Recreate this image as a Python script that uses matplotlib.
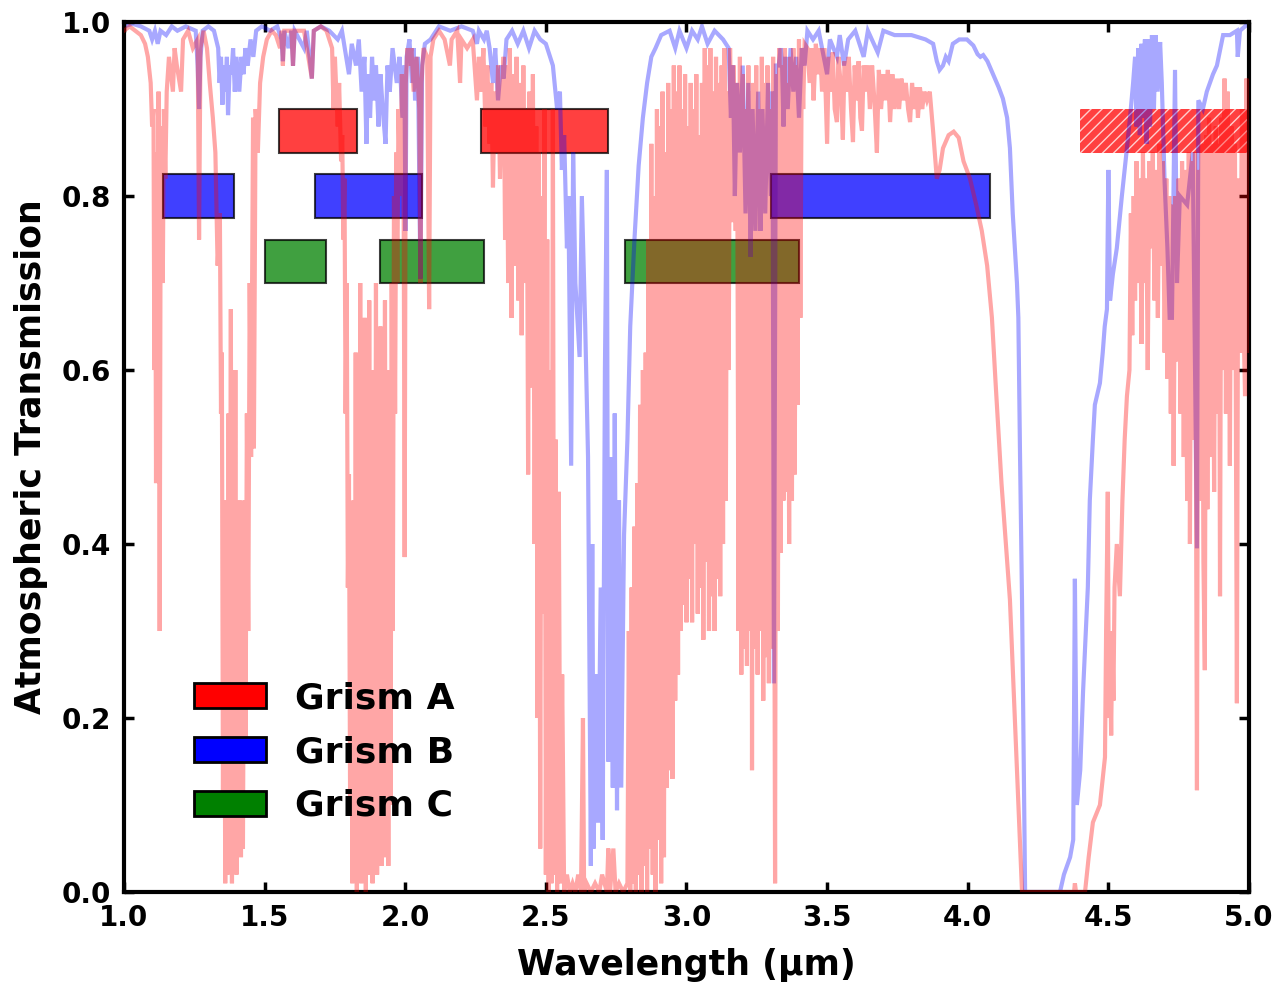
import matplotlib
matplotlib.use("Agg")
import matplotlib.pyplot as plt
from matplotlib.patches import Patch

# ---------------- data ----------------
# Site 1 (red, lower / wetter site) transmission
red_wl = [1.000, 1.020, 1.040, 1.060, 1.075, 1.085, 1.095, 1.100, 1.105, 1.108, 1.111, 1.114, 1.117, 1.120,
          1.123, 1.127, 1.130, 1.134, 1.138, 1.142, 1.147, 1.152, 1.160, 1.174, 1.180, 1.188, 1.203, 1.210,
          1.228, 1.245, 1.262, 1.267, 1.272, 1.283, 1.295, 1.305, 1.316, 1.325, 1.333, 1.341, 1.345, 1.348,
          1.352, 1.356, 1.360, 1.364, 1.368, 1.372, 1.376, 1.380, 1.384, 1.388, 1.392, 1.396, 1.400, 1.404,
          1.408, 1.412, 1.416, 1.420, 1.423, 1.428, 1.432, 1.437, 1.442, 1.447, 1.452, 1.459, 1.462, 1.468,
          1.476, 1.484, 1.495, 1.508, 1.525, 1.540, 1.555, 1.561, 1.565, 1.570, 1.595, 1.601, 1.607, 1.640,
          1.668, 1.675, 1.700, 1.720, 1.740, 1.745, 1.750, 1.760, 1.765, 1.772, 1.776, 1.780, 1.784, 1.788,
          1.792, 1.796, 1.800, 1.804, 1.808, 1.812, 1.816, 1.820, 1.824, 1.828, 1.832, 1.836, 1.840, 1.844,
          1.848, 1.852, 1.856, 1.860, 1.864, 1.868, 1.872, 1.876, 1.880, 1.884, 1.888, 1.892, 1.896, 1.900,
          1.904, 1.908, 1.912, 1.916, 1.920, 1.924, 1.928, 1.932, 1.936, 1.940, 1.944, 1.948, 1.952, 1.956,
          1.960, 1.964, 1.968, 1.972, 1.976, 1.982, 1.988, 1.994, 1.998, 2.002, 2.008, 2.015, 2.022, 2.030,
          2.040, 2.050, 2.054, 2.058, 2.065, 2.078, 2.085, 2.090, 2.100, 2.120, 2.140, 2.159, 2.165, 2.185,
          2.195, 2.200, 2.220, 2.240, 2.255, 2.262, 2.270, 2.278, 2.285, 2.292, 2.300, 2.306, 2.312, 2.318,
          2.324, 2.330, 2.337, 2.343, 2.350, 2.355, 2.360, 2.366, 2.372, 2.378, 2.384, 2.390, 2.396, 2.402,
          2.408, 2.414, 2.420, 2.426, 2.432, 2.437, 2.442, 2.448, 2.454, 2.460, 2.466, 2.470, 2.475, 2.480,
          2.485, 2.490, 2.495, 2.500, 2.505, 2.510, 2.515, 2.520, 2.525, 2.530, 2.535, 2.540, 2.546, 2.552,
          2.558, 2.565, 2.575, 2.585, 2.595, 2.605, 2.615, 2.625, 2.632, 2.636, 2.645, 2.660, 2.675, 2.690,
          2.700, 2.717, 2.722, 2.728, 2.740, 2.748, 2.760, 2.775, 2.790, 2.795, 2.800, 2.805, 2.810, 2.815,
          2.820, 2.825, 2.830, 2.835, 2.840, 2.845, 2.850, 2.855, 2.860, 2.865, 2.870, 2.875, 2.880, 2.885,
          2.890, 2.895, 2.900, 2.905, 2.910, 2.915, 2.920, 2.925, 2.930, 2.935, 2.940, 2.945, 2.950, 2.955,
          2.960, 2.965, 2.970, 2.975, 2.980, 2.985, 2.990, 2.995, 3.000, 3.005, 3.010, 3.015, 3.020, 3.025,
          3.030, 3.035, 3.040, 3.045, 3.050, 3.055, 3.060, 3.065, 3.070, 3.075, 3.080, 3.085, 3.090, 3.095,
          3.100, 3.105, 3.110, 3.115, 3.120, 3.125, 3.130, 3.135, 3.140, 3.145, 3.150, 3.155, 3.160, 3.168,
          3.175, 3.180, 3.185, 3.190, 3.195, 3.200, 3.205, 3.210, 3.215, 3.220, 3.225, 3.230, 3.233, 3.238,
          3.243, 3.248, 3.253, 3.258, 3.263, 3.268, 3.273, 3.278, 3.283, 3.288, 3.293, 3.298, 3.303, 3.308,
          3.315, 3.320, 3.325, 3.330, 3.335, 3.340, 3.345, 3.350, 3.355, 3.360, 3.365, 3.370, 3.375, 3.380,
          3.385, 3.390, 3.395, 3.400, 3.405, 3.410, 3.415, 3.420,
          3.430, 3.438, 3.445, 3.452, 3.460, 3.468, 3.475, 3.482, 3.490, 3.500, 3.506, 3.513, 3.520, 3.527,
          3.535, 3.540, 3.548, 3.556, 3.562, 3.570, 3.577, 3.585, 3.592, 3.598, 3.605, 3.612, 3.618, 3.624,
          3.630, 3.638, 3.645, 3.652, 3.660, 3.668, 3.677, 3.684, 3.692, 3.700, 3.708, 3.716, 3.724, 3.732,
          3.740, 3.748, 3.756, 3.764, 3.772, 3.780, 3.788, 3.795, 3.802, 3.810, 3.818, 3.823, 3.830, 3.838,
          3.846, 3.855, 3.865,
          3.877, 3.890, 3.900, 3.912, 3.932, 3.950, 3.968, 3.985, 4.008, 4.030, 4.050, 4.069, 4.086, 4.100,
          4.120, 4.150, 4.170, 4.193,
          4.378, 4.381, 4.385, 4.417, 4.430, 4.445, 4.470, 4.480,
          4.488, 4.492, 4.498, 4.502, 4.506, 4.510, 4.514, 4.518, 4.522, 4.530, 4.541, 4.550, 4.558, 4.566,
          4.575, 4.580, 4.585, 4.590, 4.595, 4.600, 4.606, 4.612, 4.618, 4.623, 4.628, 4.634, 4.640, 4.646,
          4.652, 4.658, 4.664, 4.670, 4.676, 4.682, 4.688, 4.694, 4.700, 4.706, 4.710, 4.716, 4.722, 4.728,
          4.732, 4.738, 4.744, 4.750, 4.756, 4.762, 4.768, 4.774, 4.780, 4.786, 4.790, 4.796, 4.802, 4.808,
          4.815, 4.820, 4.826, 4.832, 4.838, 4.843, 4.848, 4.852, 4.858, 4.864, 4.870, 4.876, 4.882, 4.888,
          4.893, 4.897, 4.902, 4.908, 4.913, 4.918, 4.924, 4.932, 4.938, 4.944, 4.950, 4.957, 4.962, 4.968,
          4.975, 4.981, 4.986, 4.991, 4.996, 5.000]
red_tr = [0.990, 0.995, 0.990, 0.985, 0.975, 0.960, 0.930, 0.880, 0.900, 0.600, 0.850, 0.470, 0.800, 0.620,
          0.920, 0.300, 0.750, 0.880, 0.700, 0.900, 0.820, 0.920, 0.960, 0.920, 0.970, 0.950, 0.920, 0.980,
          0.990, 0.970, 0.980, 0.750, 0.970, 0.990, 0.970, 0.930, 0.890, 0.850, 0.720, 0.780, 0.550, 0.620,
          0.100, 0.450, 0.010, 0.300, 0.020, 0.550, 0.050, 0.670, 0.010, 0.400, 0.030, 0.600, 0.020, 0.350,
          0.050, 0.450, 0.040, 0.300, 0.050, 0.450, 0.150, 0.550, 0.300, 0.700, 0.500, 0.890, 0.510, 0.900,
          0.850, 0.930, 0.960, 0.980, 0.990, 0.985, 0.970, 0.990, 0.950, 0.990, 0.990, 0.950, 0.990, 0.990,
          0.935, 0.990, 0.995, 0.990, 0.970, 0.900, 0.960, 0.880, 0.930, 0.840, 0.870, 0.750, 0.820, 0.550,
          0.700, 0.350, 0.480, 0.100, 0.400, 0.010, 0.450, 0.020, 0.620, 0.000, 0.500, 0.030, 0.700, 0.010,
          0.400, 0.020, 0.660, 0.000, 0.550, 0.020, 0.680, 0.050, 0.450, 0.010, 0.600, 0.030, 0.700, 0.020,
          0.500, 0.040, 0.650, 0.030, 0.550, 0.060, 0.680, 0.040, 0.450, 0.030, 0.600, 0.100, 0.700, 0.300,
          0.800, 0.550, 0.850, 0.700, 0.900, 0.800, 0.940, 0.850, 0.385, 0.930, 0.970, 0.950, 0.970, 0.920,
          0.960, 0.900, 0.700, 0.930, 0.970, 0.960, 0.670, 0.960, 0.980, 0.990, 0.980, 0.950, 0.980, 0.990,
          0.930, 0.980, 0.970, 0.980, 0.910, 0.960, 0.920, 0.970, 0.880, 0.950, 0.860, 0.930, 0.810, 0.920,
          0.850, 0.950, 0.820, 0.900, 0.960, 0.750, 0.950, 0.700, 0.970, 0.660, 0.940, 0.720, 0.960, 0.680,
          0.930, 0.640, 0.950, 0.700, 0.900, 0.480, 0.920, 0.580, 0.940, 0.400, 0.880, 0.200, 0.850, 0.050,
          0.800, 0.320, 0.900, 0.020, 0.750, 0.000, 0.600, 0.010, 0.900, 0.020, 0.520, 0.000, 0.460, 0.010,
          0.250, 0.000, 0.020, 0.000, 0.010, 0.000, 0.020, 0.000, 0.200, 0.000, 0.010, 0.000, 0.010, 0.000,
          0.020, 0.000, 0.050, 0.000, 0.050, 0.000, 0.010, 0.000, 0.010, 0.300, 0.000, 0.350, 0.010, 0.420,
          0.000, 0.470, 0.020, 0.560, 0.000, 0.600, 0.030, 0.620, 0.000, 0.750, 0.050, 0.860, 0.020, 0.800,
          0.000, 0.900, 0.060, 0.880, 0.010, 0.920, 0.040, 0.850, 0.120, 0.930, 0.140, 0.900, 0.130, 0.950,
          0.220, 0.920, 0.250, 0.950, 0.300, 0.900, 0.330, 0.940, 0.310, 0.880, 0.360, 0.930, 0.310, 0.900,
          0.400, 0.940, 0.320, 0.870, 0.350, 0.930, 0.290, 0.970, 0.380, 0.950, 0.300, 0.970, 0.340, 0.920,
          0.300, 0.960, 0.360, 0.930, 0.340, 0.950, 0.400, 0.970, 0.450, 0.920, 0.600, 0.970, 0.770, 0.950,
          0.760, 0.930, 0.300, 0.960, 0.250, 0.940, 0.280, 0.900, 0.260, 0.950, 0.300, 0.920, 0.140, 0.930,
          0.280, 0.950, 0.250, 0.900, 0.300, 0.960, 0.220, 0.930, 0.270, 0.950, 0.240, 0.900, 0.280, 0.960,
          0.010, 0.940, 0.300, 0.970, 0.390, 0.950, 0.450, 0.970, 0.460, 0.930, 0.400, 0.960, 0.450, 0.970,
          0.480, 0.950, 0.560, 0.980, 0.660, 0.970, 0.900, 0.975,
          0.970, 0.930, 0.970, 0.910, 0.975, 0.940, 0.970, 0.920, 0.970, 0.860, 0.960, 0.920, 0.965, 0.900,
          0.885, 0.960, 0.930, 0.865, 0.955, 0.920, 0.960, 0.900, 0.862, 0.950, 0.910, 0.955, 0.890, 0.875,
          0.950, 0.920, 0.950, 0.900, 0.950, 0.910, 0.850, 0.945, 0.900, 0.940, 0.910, 0.945, 0.885, 0.940,
          0.900, 0.935, 0.900, 0.935, 0.910, 0.930, 0.900, 0.885, 0.930, 0.900, 0.925, 0.890, 0.925, 0.900,
          0.920, 0.910, 0.920,
          0.874, 0.820, 0.830, 0.855, 0.870, 0.874, 0.867, 0.840, 0.820, 0.790, 0.760, 0.720, 0.660, 0.580,
          0.470, 0.336, 0.180, 0.000,
          0.000, 0.010, 0.000, 0.000, 0.040, 0.080, 0.100, 0.130,
          0.155, 0.300, 0.460, 0.200, 0.270, 0.180, 0.300, 0.220, 0.350, 0.400, 0.340, 0.450, 0.520, 0.570,
          0.600, 0.780, 0.640, 0.800, 0.680, 0.840, 0.700, 0.820, 0.630, 0.850, 0.700, 0.820, 0.600, 0.840,
          0.740, 0.850, 0.680, 0.830, 0.660, 0.860, 0.720, 0.840, 0.620, 0.820, 0.590, 0.800, 0.550, 0.790,
          0.490, 0.800, 0.610, 0.820, 0.550, 0.840, 0.500, 0.830, 0.450, 0.850, 0.400, 0.840, 0.520, 0.850,
          0.117, 0.830, 0.450, 0.860, 0.380, 0.255, 0.870, 0.440, 0.890, 0.500, 0.860, 0.460, 0.880, 0.550,
          0.860, 0.340, 0.890, 0.600, 0.935, 0.550, 0.920, 0.490, 0.880, 0.600, 0.860, 0.217, 0.820, 0.620,
          0.900, 0.650, 0.570, 0.935, 0.620, 0.930]

# Site 2 (blue, higher / drier site) transmission
blue_wl = [1.000, 1.030, 1.060, 1.090, 1.100, 1.110, 1.120, 1.130, 1.150, 1.170, 1.190, 1.220, 1.255, 1.262,
           1.267, 1.272, 1.280, 1.300, 1.320, 1.335, 1.340, 1.345, 1.350, 1.355, 1.360, 1.366, 1.370, 1.376,
           1.382, 1.388, 1.394, 1.400, 1.410, 1.418, 1.425, 1.432, 1.440, 1.450, 1.460, 1.470, 1.490, 1.520,
           1.545, 1.560, 1.565, 1.570, 1.585, 1.595, 1.601, 1.607, 1.640, 1.650, 1.668, 1.675, 1.700, 1.730,
           1.760, 1.775, 1.790, 1.800, 1.810, 1.825, 1.835, 1.845, 1.855, 1.862, 1.868, 1.875, 1.882, 1.890,
           1.896, 1.905, 1.912, 1.920, 1.930, 1.937, 1.945, 1.955, 1.970, 1.980, 1.990, 1.997, 2.001, 2.005,
           2.015, 2.024, 2.030, 2.035, 2.045, 2.054, 2.060, 2.070, 2.090, 2.120, 2.160, 2.200, 2.240, 2.255,
           2.262, 2.280, 2.290, 2.300, 2.312, 2.320, 2.330, 2.340, 2.350, 2.360, 2.380, 2.400, 2.420, 2.440,
           2.460, 2.480, 2.500, 2.515, 2.525, 2.540, 2.550, 2.557, 2.565, 2.575, 2.580, 2.590, 2.597, 2.605,
           2.620, 2.628, 2.640, 2.650, 2.660, 2.665, 2.670, 2.678, 2.686, 2.695, 2.702, 2.710, 2.717, 2.722,
           2.730, 2.738, 2.745, 2.753, 2.760, 2.768, 2.778, 2.790, 2.800, 2.815, 2.830, 2.845, 2.860, 2.875,
           2.890, 2.910, 2.940, 2.960, 2.975, 3.000, 3.020, 3.040, 3.055, 3.075, 3.100, 3.130, 3.150, 3.158,
           3.165, 3.172, 3.180, 3.190, 3.200, 3.210, 3.220, 3.228, 3.235, 3.245, 3.255, 3.263, 3.270, 3.280,
           3.290, 3.300, 3.306, 3.311, 3.318, 3.328, 3.335, 3.340, 3.345, 3.352, 3.360, 3.370, 3.380, 3.390,
           3.400, 3.410, 3.420, 3.430, 3.450, 3.470, 3.500, 3.510, 3.535, 3.545, 3.560, 3.575, 3.600, 3.630,
           3.645, 3.680, 3.700, 3.740, 3.800, 3.850, 3.877, 3.890, 3.900, 3.912, 3.922, 3.932, 3.947, 3.970,
           3.997, 4.020, 4.035, 4.045, 4.055, 4.070, 4.090, 4.110, 4.125, 4.140, 4.150, 4.160, 4.175, 4.180,
           4.186, 4.193, 4.204, 4.328, 4.342, 4.353, 4.364, 4.375, 4.381, 4.388, 4.400, 4.410, 4.420, 4.427,
           4.434, 4.445, 4.452, 4.470, 4.480, 4.487, 4.495, 4.500, 4.506, 4.516, 4.530, 4.548, 4.566, 4.577,
           4.588, 4.595, 4.600, 4.606, 4.612, 4.618, 4.624, 4.630, 4.636, 4.642, 4.648, 4.655, 4.662, 4.668,
           4.675, 4.684, 4.690, 4.700, 4.710, 4.718, 4.726, 4.737, 4.744, 4.754, 4.780, 4.800, 4.815, 4.820,
           4.836, 4.850, 4.872, 4.886, 4.908, 4.932, 4.957, 4.960, 4.968, 4.993, 5.000]
blue_tr = [0.995, 0.998, 0.995, 0.990, 0.980, 0.990, 0.975, 0.990, 0.985, 0.995, 0.990, 0.995, 0.990, 0.950,
           0.900, 0.960, 0.990, 0.995, 0.990, 0.970, 0.930, 0.960, 0.905, 0.950, 0.920, 0.960, 0.893, 0.950,
           0.940, 0.970, 0.920, 0.960, 0.920, 0.960, 0.940, 0.970, 0.950, 0.980, 0.960, 0.990, 0.995, 0.990,
           0.995, 0.980, 0.955, 0.990, 0.970, 0.990, 0.950, 0.990, 0.970, 0.990, 0.935, 0.990, 0.995, 0.990,
           0.980, 0.990, 0.960, 0.940, 0.975, 0.950, 0.980, 0.920, 0.960, 0.860, 0.940, 0.890, 0.960, 0.910,
           0.950, 0.880, 0.940, 0.900, 0.860, 0.950, 0.920, 0.970, 0.930, 0.960, 0.890, 0.950, 0.760, 0.960,
           0.980, 0.930, 0.970, 0.910, 0.960, 0.705, 0.950, 0.975, 0.980, 0.995, 0.990, 0.995, 0.990, 0.975,
           0.990, 0.980, 0.990, 0.970, 0.930, 0.970, 0.910, 0.950, 0.935, 0.980, 0.990, 0.975, 0.990, 0.970,
           0.990, 0.980, 0.975, 0.960, 0.950, 0.900, 0.920, 0.830, 0.870, 0.740, 0.800, 0.490, 0.850, 0.700,
           0.615, 0.800, 0.650, 0.500, 0.030, 0.400, 0.050, 0.250, 0.080, 0.350, 0.060, 0.600, 0.830, 0.150,
           0.500, 0.120, 0.550, 0.094, 0.450, 0.120, 0.410, 0.520, 0.650, 0.750, 0.835, 0.890, 0.930, 0.960,
           0.970, 0.985, 0.990, 0.970, 0.990, 0.970, 0.990, 0.980, 0.995, 0.975, 0.990, 0.980, 0.970, 0.890,
           0.950, 0.800, 0.930, 0.850, 0.950, 0.780, 0.930, 0.730, 0.900, 0.760, 0.920, 0.760, 0.900, 0.780,
           0.930, 0.800, 0.920, 0.240, 0.950, 0.950, 0.970, 0.950, 0.880, 0.960, 0.900, 0.970, 0.920, 0.960,
           0.890, 0.970, 0.950, 0.990, 0.980, 0.990, 0.940, 0.980, 0.960, 0.985, 0.950, 0.980, 0.990, 0.960,
           0.990, 0.965, 0.990, 0.985, 0.985, 0.980, 0.975, 0.955, 0.945, 0.950, 0.960, 0.955, 0.975, 0.980,
           0.980, 0.973, 0.963, 0.960, 0.962, 0.955, 0.940, 0.925, 0.912, 0.890, 0.855, 0.780, 0.700, 0.660,
           0.500, 0.336, 0.000, 0.000, 0.020, 0.030, 0.040, 0.060, 0.360, 0.100, 0.140, 0.230, 0.300, 0.350,
           0.450, 0.520, 0.560, 0.585, 0.620, 0.650, 0.670, 0.830, 0.680, 0.710, 0.740, 0.800, 0.855, 0.890,
           0.930, 0.960, 0.880, 0.970, 0.870, 0.975, 0.890, 0.980, 0.860, 0.980, 0.880, 0.985, 0.900, 0.985,
           0.920, 0.977, 0.930, 0.816, 0.740, 0.660, 0.660, 0.945, 0.700, 0.800, 0.790, 0.850, 0.395, 0.910,
           0.900, 0.920, 0.940, 0.950, 0.985, 0.985, 0.990, 0.960, 0.990, 0.997, 1.000]

# Grism coverage (start, end) in micron
grism_a = [(1.55, 1.83), (2.27, 2.72)]
grism_a_extra = [(4.40, 5.00)]           # hatched segment
grism_b = [(1.14, 1.39), (1.68, 2.06), (3.30, 4.08)]
grism_c = [(1.50, 1.72), (1.91, 2.28), (2.78, 3.40)]
grism_levels = {"A": (0.85, 0.90), "B": (0.775, 0.825), "C": (0.70, 0.75)}
legend_labels = ["Grism A", "Grism B", "Grism C"]

x_ticks = [1.0, 1.5, 2.0, 2.5, 3.0, 3.5, 4.0, 4.5, 5.0]
y_ticks = [0.0, 0.2, 0.4, 0.6, 0.8, 1.0]

# ---------------- plot ----------------
plt.rcParams['font.family'] = ['DejaVu Sans']
plt.rcParams['font.weight'] = 'bold'
plt.rcParams['hatch.linewidth'] = 1.0

fig = plt.figure(figsize=(12.78, 9.84), dpi=100)
ax = fig.add_axes([0.097, 0.0935, 0.8803, 0.8841])


def draw_bars(ranges, level, color, **kw):
    lo, hi = level
    for s, e in ranges:
        ax.barh((lo + hi) / 2, e - s, left=s, height=hi - lo, color=color, alpha=0.75,
                zorder=1, **kw)


draw_bars(grism_a, grism_levels["A"], 'red', edgecolor='black', linewidth=1.5)
draw_bars(grism_a_extra, grism_levels["A"], 'red', edgecolor='white', linewidth=0, hatch='///')
draw_bars(grism_b, grism_levels["B"], 'blue', edgecolor='black', linewidth=1.5)
draw_bars(grism_c, grism_levels["C"], 'green', edgecolor='black', linewidth=1.5)

ax.plot(blue_wl, blue_tr, color='blue', alpha=0.34, lw=3.0, zorder=2, solid_joinstyle='miter')
ax.plot(red_wl, red_tr, color='red', alpha=0.35, lw=3.0, zorder=3, solid_joinstyle='miter')

ax.set_xlim(1.0, 5.0)
ax.set_ylim(0.0, 1.0)
ax.set_xticks(x_ticks)
ax.set_yticks(y_ticks)
ax.set_xticklabels([f"{v:.1f}" for v in x_ticks])
ax.set_yticklabels([f"{v:.1f}" for v in y_ticks])
ax.tick_params(direction='in', length=7, width=2.5, labelsize=20, pad=9,
               top=True, right=True)
for lab in ax.get_xticklabels() + ax.get_yticklabels():
    lab.set_fontweight('bold')
for sp in ax.spines.values():
    sp.set_linewidth(3)

ax.set_xlabel("Wavelength (μm)", fontsize=25, fontweight='bold', labelpad=11)
ax.set_ylabel("Atmospheric Transmission", fontsize=25, fontweight='bold', labelpad=10)

handles = [Patch(facecolor=c, edgecolor='black', linewidth=2) for c in ('red', 'blue', 'green')]
leg = ax.legend(handles, legend_labels, loc='lower left', bbox_to_anchor=(0.033, 0.042),
                frameon=False, prop={'size': 26, 'weight': 'bold'}, handlelength=2.0,
                handleheight=0.7, handletextpad=0.8, labelspacing=0.55)

fig.savefig("out.png", dpi=100)
